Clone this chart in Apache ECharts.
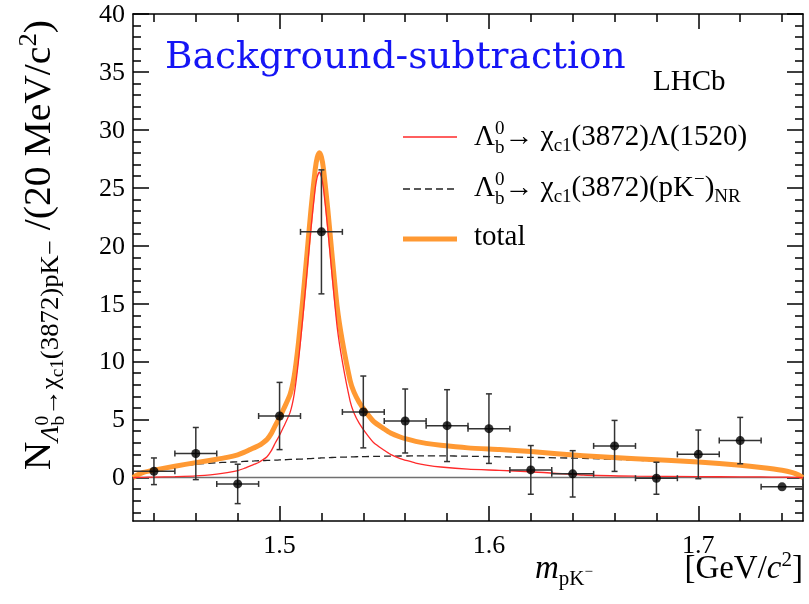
<!DOCTYPE html>
<html><head><meta charset="utf-8">
<script src="https://cdn.jsdelivr.net/npm/echarts@6/dist/echarts.min.js"></script>
<style>html,body{margin:0;padding:0;background:#fff}#c{width:809px;height:604px}</style>
</head><body><div id="c"></div>
<script>
// ---------------- data ----------------
const binCenters = [1.44,1.46,1.48,1.50,1.52,1.54,1.56,1.58,1.60,1.62,1.64,1.66,1.68,1.70,1.72,1.74];
const counts     = [0.54,2.07,-0.55,5.31,21.2,5.66,4.88,4.48,4.22,0.66,0.32,2.73,-0.06,2.00,3.19,-0.80];
const errors     = [1.15,2.25,1.70,2.90,5.35,3.10,2.76,3.10,3.00,2.10,2.00,2.20,1.38,2.10,2.00,0];
const binHalfWidth = 0.01;

const curveX      = [1.430,1.432,1.435,1.440,1.450,1.460,1.470,1.475,1.480,1.483,1.486,1.488,1.490,1.492,1.494,1.496,1.498,1.500,1.502,1.505,1.507,1.509,1.511,1.513,1.515,1.517,1.518,1.519,1.520,1.521,1.523,1.525,1.5275,1.530,1.5337,1.5355,1.538,1.541,1.545,1.550,1.553,1.5576,1.561,1.565,1.570,1.577,1.590,1.605,1.620,1.645,1.670,1.700,1.720,1.730,1.740,1.745,1.748,1.750];
const lambda1520  = [0,0.01,0.02,0.04,0.08,0.14,0.3,0.42,0.6,0.78,1.0,1.15,1.3,1.53,1.8,2.3,3.0,3.65,4.4,5.6,7.2,10.0,13.6,17.5,21.5,24.9,25.95,26.35,25.95,24.9,21.5,17.6,13.0,10.0,6.6,5.6,4.7,3.9,3.0,2.35,2.0,1.64,1.45,1.25,1.08,0.91,0.72,0.62,0.5,0.22,0.12,0.08,0.06,0.05,0.03,0.02,0.01,0];
const nonResonant = [0,0.2,0.42,0.6,0.9,1.15,1.28,1.32,1.36,1.39,1.42,1.43,1.45,1.46,1.48,1.49,1.5,1.52,1.53,1.56,1.57,1.59,1.6,1.62,1.64,1.66,1.67,1.68,1.69,1.7,1.71,1.73,1.75,1.76,1.78,1.79,1.8,1.81,1.82,1.84,1.85,1.86,1.86,1.87,1.87,1.87,1.84,1.79,1.74,1.66,1.5,1.26,1.0,0.82,0.6,0.4,0.2,0];
const totalFit    = [0,0.21,0.44,0.64,0.98,1.29,1.58,1.74,1.96,2.17,2.42,2.58,2.75,2.99,3.28,3.79,4.5,5.17,5.93,7.16,8.77,11.59,15.2,19.12,23.14,26.56,27.62,28.03,27.64,26.6,23.21,19.33,14.75,11.76,8.38,7.39,6.5,5.71,4.82,4.19,3.85,3.5,3.31,3.12,2.95,2.78,2.56,2.41,2.24,1.88,1.62,1.34,1.06,0.87,0.63,0.42,0.21,0];

const xMajorTicks = [1.5,1.6,1.7];
const xMinorTicks = [1.44,1.46,1.48,1.50,1.52,1.54,1.56,1.58,1.60,1.62,1.64,1.66,1.68,1.70,1.72,1.74];
const yMajorTicks = [0,5,10,15,20,25,30,35,40];
const yMinorTicks = [-3,-2,-1,0,1,2,3,4,5,6,7,8,9,10,11,12,13,14,15,16,17,18,19,20,21,22,23,24,25,26,27,28,29,30,31,32,33,34,35,36,37,38,39,40];
const xTickLabels = ['1.5','1.6','1.7'];
const yTickLabels = ['0','5','10','15','20','25','30','35','40'];
const xRange = [1.43, 1.75];
const yRange = [-3.75, 40];

// ---------------- text helpers ----------------
const SERIF = 'Liberation Serif';
const mctx = document.createElement('canvas').getContext('2d');
function tw(t, s, it, fam){ mctx.font = (it?'italic ':'') + s + 'px "' + (fam||SERIF) + '"'; return mctx.measureText(t).width; }
function mathText(pieces, fill, fam){
  let x = 0, lastStart = 0; const children = [];
  for (const p of pieces){
    const w = tw(p.t, p.s, p.it, fam);
    const px = p.stack ? lastStart : x;
    children.push({type:'text', x:px, y:(p.dy||0) - 0.32*p.s, silent:true,
      style:{text:p.t, fontSize:p.s, fontFamily:fam||SERIF, fontStyle:p.it?'italic':'normal', fill:fill||'#000',
        align:'left', textAlign:'left', verticalAlign:'middle', textVerticalAlign:'middle'}});
    if (p.stack) x = Math.max(x, px + w); else { lastStart = px; x = px + w; }
  }
  return {children, width:x};
}

// ---------------- axes ----------------
const AX = {color:'#000', width:1.5};
function xAx(pos, ticks, len, line){
  return {type:'value', position:pos, min:xRange[0], max:xRange[1],
    axisLine:{show:line, onZero:false, lineStyle:AX},
    axisTick:{show:true, inside:true, length:len, customValues:ticks, lineStyle:AX},
    axisLabel:{show:false}, splitLine:{show:false}};
}
function yAx(pos, ticks, len, line){
  return {type:'value', position:pos, min:yRange[0], max:yRange[1],
    axisLine:{show:line, onZero:false, lineStyle:AX},
    axisTick:{show:true, inside:true, length:len, customValues:ticks, lineStyle:AX},
    axisLabel:{show:false}, splitLine:{show:false}};
}
function tickLabelText(x, y, text, align, vAlign){
  return {type:'text', x, y, silent:true,
    style:{text, fontSize:26, fontFamily:SERIF, fill:'#000', align, textAlign:align, verticalAlign:vAlign, textVerticalAlign:vAlign}};
}

// ---------------- titles ----------------
const B=37, S=25, SS=18;
const yTitle = mathText([
  {t:'N',s:B},{t:'Λ',s:S,dy:7,it:true},{t:'0',s:SS,dy:-3},{t:'b',s:SS,dy:13,stack:true},
  {t:'→χ',s:S,dy:7},{t:'c1',s:SS,dy:12},{t:'(3872)pK−',s:S,dy:7},
  {t:' /(20 MeV/c',s:B},{t:'2',s:S,dy:-15},{t:')',s:B}
]);
const yStretch = 1.07;
const xTitleM = mathText([{t:'m',s:33,it:true},{t:'pK',s:21,dy:6},{t:'−',s:15,dy:-3}]);
const xTitleU = mathText([{t:'[GeV/',s:33},{t:'c',s:33,it:true},{t:'2',s:21,dy:-13},{t:']',s:33}]);

const L=29, LS=19;
const leg1 = mathText([{t:'Λ',s:L},{t:'0',s:LS,dy:-12},{t:'b',s:LS,dy:7,stack:true},{t:'→ χ',s:L},{t:'c1',s:LS,dy:5},{t:'(3872)Λ(1520)',s:L}]);
const leg2 = mathText([{t:'Λ',s:L},{t:'0',s:LS,dy:-12},{t:'b',s:LS,dy:7,stack:true},{t:'→ χ',s:L},{t:'c1',s:LS,dy:5},{t:'(3872)(pK',s:L},{t:'−',s:LS,dy:-12},{t:')',s:L},{t:'NR',s:LS,dy:5}]);
const leg3 = mathText([{t:'total',s:L}]);
const title = mathText([{t:'Background-subtraction',s:37.5}], '#1515f5', 'DejaVu Serif');
const lhcb = mathText([{t:'LHCb',s:29}]);

const graphics = [
  {type:'group', x:52, y:20 + yTitle.width*yStretch, rotation:Math.PI/2, scaleX:yStretch, children:yTitle.children},
  {type:'group', x:535, y:580, children:xTitleM.children},
  {type:'group', x:803 - xTitleU.width, y:580, children:xTitleU.children},
  {type:'group', x:165, y:70, children:title.children},
  {type:'group', x:653, y:92, children:lhcb.children},
  {type:'line', silent:true, shape:{x1:403,y1:137,x2:457,y2:137}, style:{stroke:'#ff2a2a', lineWidth:1.3}},
  {type:'line', silent:true, shape:{x1:403,y1:189,x2:457,y2:189}, style:{stroke:'#222', lineWidth:1.3, lineDash:[7,4]}},
  {type:'line', silent:true, shape:{x1:403,y1:239,x2:457,y2:239}, style:{stroke:'#ff9933', lineWidth:5}},
  {type:'group', x:474, y:147, children:leg1.children},
  {type:'group', x:474, y:198, children:leg2.children},
  {type:'group', x:474, y:247, children:leg3.children}
];

const zip = (xs, ys) => xs.map((x,i)=>[x, ys[i]]);
const chart = echarts.init(document.getElementById('c'));
chart.setOption({
  animation:false,
  backgroundColor:'#fff',
  textStyle:{fontFamily:SERIF},
  grid:{left:133, right:6, top:14, bottom:83},
  xAxis:[xAx('bottom', xMajorTicks, 15, true), xAx('bottom', xMinorTicks, 8, false),
         xAx('top', xMajorTicks, 15, true), xAx('top', xMinorTicks, 8, false)],
  yAxis:[yAx('left', yMajorTicks, 16, true), yAx('left', yMinorTicks, 8, false),
         yAx('right', yMajorTicks, 16, true), yAx('right', yMinorTicks, 8, false)],
  graphic:graphics,
  series:[
    {type:'line', name:'zero', data:[[xRange[0],0],[xRange[1],0]], showSymbol:false, silent:true, z:1,
      lineStyle:{color:'#707070', width:1.6}},
    {type:'line', name:'NR', data:zip(curveX, nonResonant), showSymbol:false, smooth:0.2, z:2,
      lineStyle:{color:'#222', width:1.3, type:[7,4]}},
    {type:'line', name:'total', data:zip(curveX, totalFit), showSymbol:false, smooth:0.2, z:3,
      lineStyle:{color:'#ff9933', width:5, join:'round'}},
    {type:'line', name:'L1520', data:zip(curveX, lambda1520), showSymbol:false, smooth:0.2, z:4,
      lineStyle:{color:'#ff2a2a', width:1.3}},
    {type:'custom', name:'err', z:5, silent:true,
      data:binCenters.map((x,i)=>[x, counts[i], errors[i], binHalfWidth]),
      renderItem:(params, api)=>{
        const x=api.value(0), y=api.value(1), e=api.value(2), hw=api.value(3);
        const l=api.coord([x-hw,y]), r=api.coord([x+hw,y]);
        const st={stroke:'#333', lineWidth:1.5}, cap=3;
        const ch=[
          {type:'line', shape:{x1:l[0],y1:l[1],x2:r[0],y2:r[1]}, style:st},
          {type:'line', shape:{x1:l[0],y1:l[1]-cap,x2:l[0],y2:l[1]+cap}, style:st},
          {type:'line', shape:{x1:r[0],y1:r[1]-cap,x2:r[0],y2:r[1]+cap}, style:st}
        ];
        if (e>0){
          const t=api.coord([x,y+e]), b=api.coord([x,y-e]);
          ch.push({type:'line', shape:{x1:t[0],y1:t[1],x2:b[0],y2:b[1]}, style:st});
          ch.push({type:'line', shape:{x1:t[0]-cap,y1:t[1],x2:t[0]+cap,y2:t[1]}, style:st});
          ch.push({type:'line', shape:{x1:b[0]-cap,y1:b[1],x2:b[0]+cap,y2:b[1]}, style:st});
        }
        return {type:'group', children:ch};
      }},
    {type:'scatter', name:'data', data:zip(binCenters, counts), symbol:'circle', symbolSize:9, z:6, silent:true,
      itemStyle:{color:'#000'}},
    {type:'custom', name:'yTickLabels', z:7, silent:true, clip:false,
      data:yMajorTicks.map((v,i)=>[xRange[0], v, i]),
      renderItem:(params, api)=>{
        const p = api.coord([api.value(0), api.value(1)]);
        return tickLabelText(p[0]-8, p[1]+1, yTickLabels[api.value(2)], 'right', 'middle');
      }},
    {type:'custom', name:'xTickLabels', z:7, silent:true, clip:false,
      data:xMajorTicks.map((v,i)=>[v, yRange[0], i]),
      renderItem:(params, api)=>{
        const p = api.coord([api.value(0), api.value(1)]);
        return tickLabelText(p[0], p[1]+12, xTickLabels[api.value(2)], 'center', 'top');
      }}
  ]
});
</script></body></html>
